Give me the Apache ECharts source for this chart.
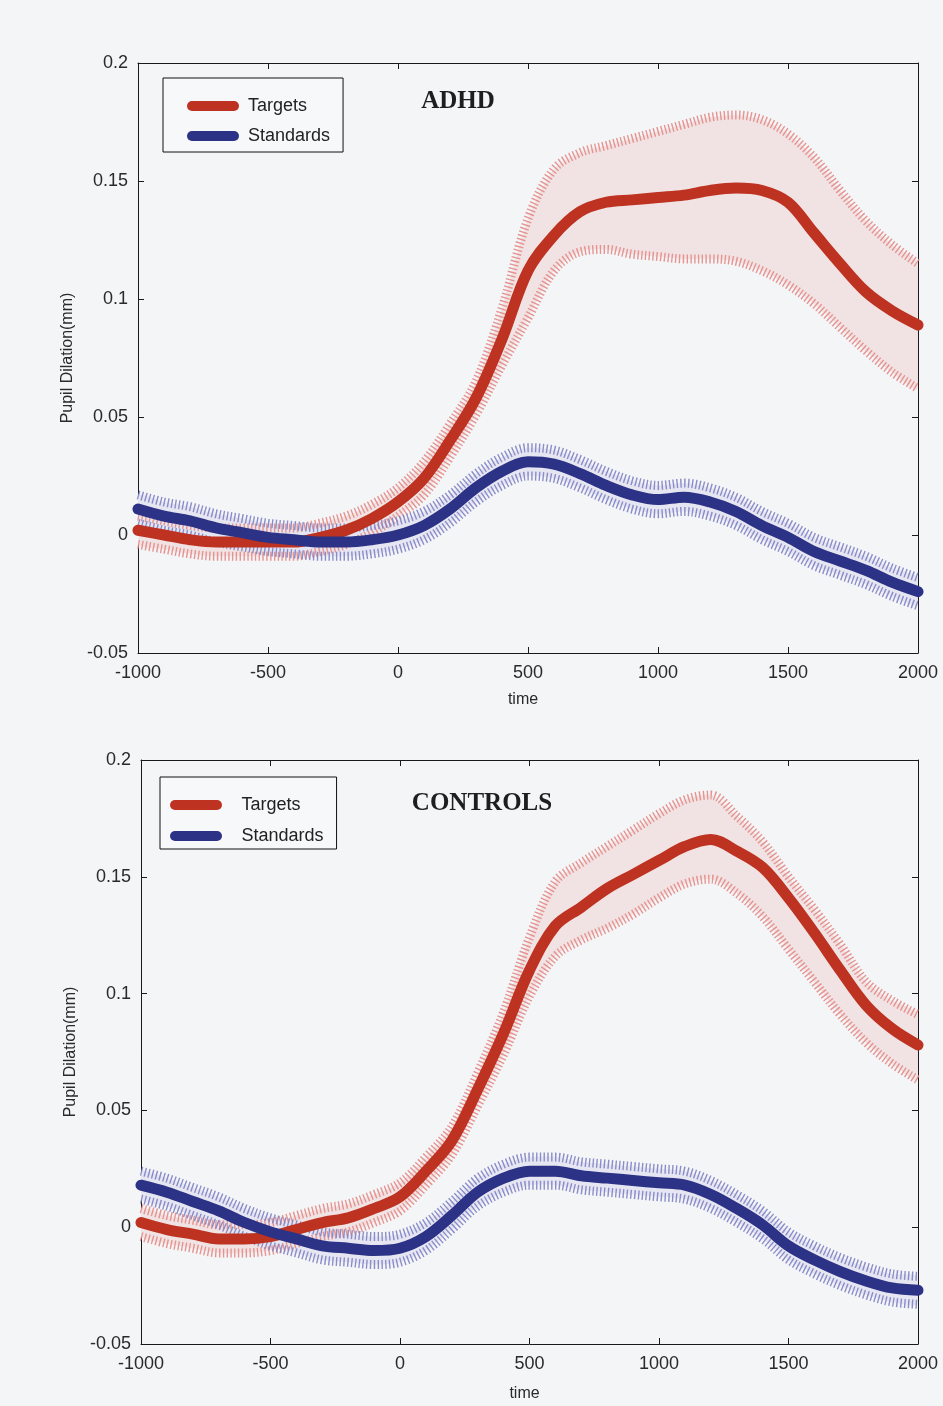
<!DOCTYPE html>
<html>
<head>
<meta charset="utf-8">
<script src="https://cdn.jsdelivr.net/npm/echarts@6/dist/echarts.min.js"></script>
<style>
  html, body { margin: 0; padding: 0; background: #f4f5f7; }
  #chart { width: 943px; height: 1406px; }
</style>
</head>
<body>
<div id="chart"></div>
<script>
// Time axis (ms relative to stimulus onset)
const time = [-1000, -900, -800, -700, -600, -500, -400, -300, -200, -100, 0,
  100, 200, 300, 400, 500, 600, 700, 800, 900, 1000,
  1100, 1200, 1300, 1400, 1500, 1600, 1700, 1800, 1900, 2000];

const xTicks = { min: -1000, max: 2000, interval: 500 };
const yTicks = { min: -0.05, max: 0.2, interval: 0.05 };

const panelTitles = ['ADHD', 'CONTROLS'];
const legendNames = ['Targets', 'Standards'];
const yAxisTitle = 'Pupil Dilation(mm)';
const xAxisTitle = 'time';

// ADHD group: mean pupil dilation with error band
const adhdTargetsMean = [0.002, 0.000, -0.002, -0.003, -0.003, -0.003, -0.003, -0.001, 0.002, 0.007, 0.014,
  0.024, 0.040, 0.058, 0.083, 0.112, 0.127, 0.137, 0.141, 0.142, 0.143,
  0.144, 0.146, 0.147, 0.146, 0.141, 0.128, 0.115, 0.103, 0.095, 0.089];
const adhdTargetsUpper = [0.008, 0.006, 0.004, 0.003, 0.003, 0.003, 0.003, 0.005, 0.008, 0.013, 0.020,
  0.031, 0.047, 0.065, 0.096, 0.134, 0.155, 0.162, 0.165, 0.168, 0.171,
  0.174, 0.177, 0.178, 0.176, 0.170, 0.160, 0.146, 0.133, 0.123, 0.115];
const adhdTargetsLower = [-0.004, -0.006, -0.008, -0.009, -0.009, -0.009, -0.009, -0.007, -0.004, 0.001, 0.008,
  0.017, 0.033, 0.051, 0.072, 0.092, 0.112, 0.120, 0.121, 0.119, 0.118,
  0.117, 0.117, 0.116, 0.112, 0.106, 0.098, 0.088, 0.078, 0.069, 0.062];

const adhdStandardsMean = [0.011, 0.008, 0.006, 0.003, 0.001, -0.001, -0.002, -0.003, -0.003, -0.002, 0.000,
  0.004, 0.011, 0.020, 0.027, 0.031, 0.030, 0.026, 0.021, 0.017, 0.015,
  0.016, 0.014, 0.010, 0.004, -0.001, -0.007, -0.011, -0.015, -0.020, -0.024];
const adhdStandardsUpper = [0.017, 0.014, 0.012, 0.009, 0.007, 0.005, 0.004, 0.003, 0.003, 0.004, 0.006,
  0.010, 0.017, 0.026, 0.033, 0.037, 0.036, 0.032, 0.027, 0.023, 0.021,
  0.022, 0.020, 0.016, 0.010, 0.005, -0.001, -0.005, -0.009, -0.014, -0.018];
const adhdStandardsLower = [0.005, 0.002, 0.000, -0.003, -0.005, -0.007, -0.008, -0.009, -0.009, -0.008, -0.006,
  -0.002, 0.005, 0.014, 0.021, 0.025, 0.024, 0.020, 0.015, 0.011, 0.009,
  0.010, 0.008, 0.004, -0.002, -0.007, -0.013, -0.017, -0.021, -0.026, -0.030];

// Control group
const ctrlTargetsMean = [0.002, -0.001, -0.003, -0.005, -0.005, -0.004, -0.001, 0.002, 0.004, 0.008, 0.013,
  0.024, 0.037, 0.059, 0.083, 0.110, 0.129, 0.137, 0.145, 0.151, 0.157,
  0.163, 0.166, 0.161, 0.154, 0.141, 0.126, 0.110, 0.095, 0.085, 0.078];
const ctrlTargetsUpper = [0.008, 0.005, 0.003, 0.001, 0.001, 0.002, 0.005, 0.008, 0.010, 0.014, 0.019,
  0.030, 0.043, 0.066, 0.092, 0.124, 0.148, 0.156, 0.163, 0.170, 0.177,
  0.183, 0.185, 0.176, 0.165, 0.150, 0.136, 0.121, 0.105, 0.097, 0.091];
const ctrlTargetsLower = [-0.004, -0.007, -0.009, -0.011, -0.011, -0.010, -0.007, -0.004, -0.002, 0.002, 0.007,
  0.018, 0.031, 0.052, 0.074, 0.099, 0.116, 0.123, 0.128, 0.134, 0.141,
  0.147, 0.149, 0.143, 0.133, 0.119, 0.105, 0.091, 0.079, 0.070, 0.063];

const ctrlStandardsMean = [0.018, 0.015, 0.011, 0.007, 0.002, -0.002, -0.005, -0.008, -0.009, -0.010, -0.009,
  -0.004, 0.005, 0.015, 0.021, 0.024, 0.024, 0.022, 0.021, 0.020, 0.019,
  0.018, 0.014, 0.008, 0.001, -0.008, -0.014, -0.019, -0.023, -0.026, -0.027];
const ctrlStandardsUpper = [0.024, 0.021, 0.017, 0.013, 0.008, 0.004, 0.001, -0.002, -0.003, -0.004, -0.003,
  0.002, 0.011, 0.021, 0.027, 0.030, 0.030, 0.028, 0.027, 0.026, 0.025,
  0.024, 0.020, 0.014, 0.007, -0.002, -0.008, -0.013, -0.017, -0.020, -0.021];
const ctrlStandardsLower = [0.012, 0.009, 0.005, 0.001, -0.004, -0.008, -0.011, -0.014, -0.015, -0.016, -0.015,
  -0.010, -0.001, 0.009, 0.015, 0.018, 0.018, 0.016, 0.015, 0.014, 0.013,
  0.012, 0.008, 0.002, -0.005, -0.014, -0.020, -0.025, -0.029, -0.032, -0.033];

// ---- styling ----
const RED = '#bd3220';
const RED_HATCH = 'rgba(228,138,134,0.9)';
const RED_FILL = '#f1e3e4';
const BLUE = '#2c3285';
const BLUE_HATCH = 'rgba(128,130,196,0.9)';
const BLUE_FILL = '#e6e6f2';
const AXIS_COLOR = '#1a1a1a';
const LABEL_COLOR = '#2a2a2a';
const SANS = '"Liberation Sans", Arial, sans-serif';
const SERIF = '"Liberation Serif", "Times New Roman", serif';

const grids = [
  { left: 138, top: 63, width: 780, height: 590 },
  { left: 141, top: 760, width: 777, height: 584 }
];
const nameGaps = [39, 42];

const pairs = (ys) => time.map((t, i) => [t, ys[i]]);

// Shaded error band: one smoothed polygon running along the upper bound and back along the lower bound
function bandFill(g, upper, lower, fill) {
  return {
    type: 'custom', xAxisIndex: g * 2, yAxisIndex: g * 2, silent: true, animation: false, z: 1, clip: true,
    data: time.map((t, i) => [t, lower[i], upper[i]]),
    encode: { x: 0, y: [1, 2] },
    renderItem: function (params, api) {
      if (params.dataIndexInside !== 0) return null;
      const n = params.dataInsideLength;
      const top = [], bottom = [];
      for (let i = 0; i < n; i++) {
        top.push(api.coord([api.value(0, i), api.value(2, i)]));
        bottom.push(api.coord([api.value(0, i), api.value(1, i)]));
      }
      return {
        type: 'polygon',
        shape: { points: top.concat(bottom.reverse()), smooth: 0.25 },
        style: { fill: fill }
      };
    }
  };
}

function groupSeries(g, label, mean, upper, lower, color, hatch, fill) {
  const base = { type: 'line', symbol: 'none', smooth: 0.35, silent: true, animation: false,
    xAxisIndex: g * 2, yAxisIndex: g * 2, z: 2 };
  const hatchStyle = { color: hatch, width: 9, type: [1.4, 2.4], cap: 'butt' };
  return [
    bandFill(g, upper, lower, fill),
    Object.assign({}, base, { name: label + ' upper', data: pairs(upper), lineStyle: hatchStyle }),
    Object.assign({}, base, { name: label + ' lower', data: pairs(lower), lineStyle: hatchStyle }),
    Object.assign({}, base, {
      name: label, data: pairs(mean), color: color, z: 3,
      lineStyle: { color: color, width: 11, cap: 'round', join: 'round' }
    })
  ];
}

const plainNumber = (v) => String(+v.toFixed(4));

const xAxes = [], yAxes = [];
grids.forEach((gr, g) => {
  const tickStyle = { show: true, inside: true, length: 6, lineStyle: { color: AXIS_COLOR, width: 1 } };
  const lineStyle = { show: true, onZero: false, lineStyle: { color: AXIS_COLOR, width: 1 } };
  xAxes.push({
    type: 'value', gridIndex: g, position: 'bottom', min: xTicks.min, max: xTicks.max, interval: xTicks.interval,
    axisLine: lineStyle, axisTick: tickStyle, splitLine: { show: false },
    axisLabel: { color: LABEL_COLOR, fontFamily: SANS, fontSize: 18, margin: 11,
      showMinLabel: true, showMaxLabel: true, formatter: plainNumber },
    name: xAxisTitle, nameLocation: 'middle', nameGap: nameGaps[g],
    nameTextStyle: { color: LABEL_COLOR, fontFamily: SANS, fontSize: 16, padding: [0, 10, 0, 0] }
  });
  xAxes.push({
    type: 'value', gridIndex: g, position: 'top', min: xTicks.min, max: xTicks.max, interval: xTicks.interval,
    axisLine: lineStyle, axisTick: tickStyle, axisLabel: { show: false }, splitLine: { show: false }
  });
  yAxes.push({
    type: 'value', gridIndex: g, position: 'left', min: yTicks.min, max: yTicks.max, interval: yTicks.interval,
    axisLine: lineStyle, axisTick: tickStyle, splitLine: { show: false },
    axisLabel: { color: LABEL_COLOR, fontFamily: SANS, fontSize: 18, margin: 10,
      showMinLabel: true, showMaxLabel: true, formatter: plainNumber },
    name: yAxisTitle, nameLocation: 'middle', nameGap: 58,
    nameTextStyle: { color: LABEL_COLOR, fontFamily: SANS, fontSize: 16 }
  });
  yAxes.push({
    type: 'value', gridIndex: g, position: 'right', min: yTicks.min, max: yTicks.max, interval: yTicks.interval,
    axisLine: lineStyle, axisTick: tickStyle, axisLabel: { show: false }, splitLine: { show: false }
  });
});

const pillIcon = 'path://M5,0 L47,0 A5,5 0 0 1 47,10 L5,10 A5,5 0 0 1 5,0 Z';

const legends = [
  { left: 163, top: 78, itemWidth: 52, itemHeight: 10, itemGap: 12, padding: [19, 13, 7, 24], textPad: 4 },
  { left: 160, top: 777, itemWidth: 55, itemHeight: 10, itemGap: 13, padding: [19, 13, 4, 10], textPad: 13 }
].map((l) => ({
  data: legendNames.map((n) => ({ name: n, icon: pillIcon })),
  orient: 'vertical', left: l.left, top: l.top,
  itemWidth: l.itemWidth, itemHeight: l.itemHeight, itemGap: l.itemGap, padding: l.padding,
  borderColor: '#111', borderWidth: 1, backgroundColor: '#f7f8fa',
  selectedMode: false,
  itemStyle: { borderWidth: 0 }, lineStyle: { width: 0 },
  textStyle: { color: '#222', fontFamily: SANS, fontSize: 18, padding: [0, 0, 0, l.textPad] }
}));

const titles = [
  { text: panelTitles[0], left: 458, top: 89 },
  { text: panelTitles[1], left: 482, top: 791 }
].map((t) => ({
  text: t.text, left: t.left, top: t.top, textAlign: 'center', padding: 0,
  textStyle: { fontFamily: SERIF, fontWeight: 'bold', fontSize: 25, color: '#1e1e1e' }
}));

const series = [].concat(
  groupSeries(0, 'Targets', adhdTargetsMean, adhdTargetsUpper, adhdTargetsLower, RED, RED_HATCH, RED_FILL),
  groupSeries(0, 'Standards', adhdStandardsMean, adhdStandardsUpper, adhdStandardsLower, BLUE, BLUE_HATCH, BLUE_FILL),
  groupSeries(1, 'Targets', ctrlTargetsMean, ctrlTargetsUpper, ctrlTargetsLower, RED, RED_HATCH, RED_FILL),
  groupSeries(1, 'Standards', ctrlStandardsMean, ctrlStandardsUpper, ctrlStandardsLower, BLUE, BLUE_HATCH, BLUE_FILL)
);

const chart = echarts.init(document.getElementById('chart'), null, { renderer: 'canvas' });
chart.setOption({
  backgroundColor: '#f4f5f7',
  animation: false,
  title: titles,
  legend: legends,
  grid: grids,
  xAxis: xAxes,
  yAxis: yAxes,
  series: series
});
</script>
</body>
</html>
